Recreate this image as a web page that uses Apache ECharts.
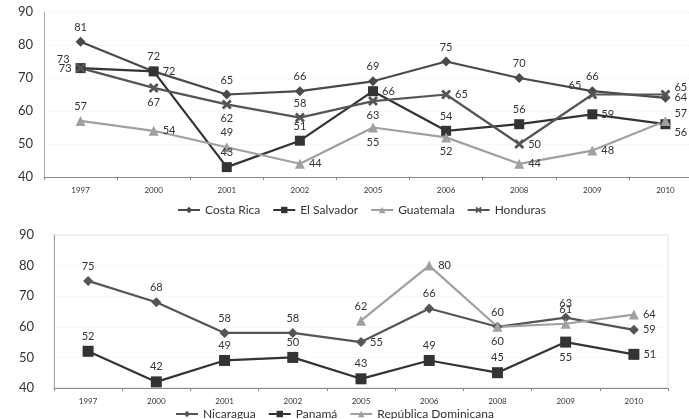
<!DOCTYPE html>
<html><head><meta charset="utf-8">
<script src="https://cdn.jsdelivr.net/npm/echarts@6/dist/echarts.min.js"></script>
<style>html,body{margin:0;padding:0;background:#fff;overflow:hidden;width:689px;height:419px}#c{width:720px;height:419px}</style>
</head><body><div id="c"></div>
<script>
const years = ['1997','2000','2001','2002','2005','2006','2008','2009','2010'];
const yTicks = [40,50,60,70,80,90];
const costaRica = [81,72,65,66,69,75,70,66,64];
const elSalvador = [73,72,43,51,66,54,56,59,56];
const guatemala = [57,54,49,44,55,52,44,48,57];
const honduras = [73,67,62,58,63,65,50,65,65];
const nicaragua = [75,68,58,58,55,66,60,63,59];
const panama = [52,42,49,50,43,49,45,55,51];
const repDom = [null,null,null,null,62,80,60,61,64];

// label placement (style only)
const posCR = ['top','top','top','top','top','top','top','top','right'];
const posES = ['left','right','top','top','right','top','top','right','bottomRight'];
const posGT = ['top','right','top','right','bottom','bottom','right','right','topRight'];
const posHN = ['topLeft','bottom','bottom','top','bottom','right','right','topLeft','topRight'];
const posNI = ['top','top','top','top','right','top','top','top','right'];
const posPA = ['top','top','top','top','top','top','top','bottom','right'];
const posRD = [null,null,null,null,'top','right','bottom','top','right'];

const xPath = 'path://M0,2L2,0L5,3L8,0L10,2L7,5L10,8L8,10L5,7L2,10L0,8L3,5Z';
const FONT = 'Lato';

function mk(vals, pos) {
  return vals.map((v, i) => {
    if (v === null) return null;
    let p = pos[i], off = [0,0], position = p;
    if (p === 'topLeft') { position = 'left'; off = [-2,-9]; }
    else if (p === 'topRight') { position = 'right'; off = [0,-7]; }
    else if (p === 'bottomRight') { position = 'right'; off = [0,8]; }
    return {value: v, label: {position: position, offset: off}};
  });
}

function series(name, vals, pos, color, symbol, size, xi) {
  return {
    name: name, type: 'line', xAxisIndex: xi, yAxisIndex: xi,
    data: mk(vals, pos), symbol: symbol, symbolSize: size,
    lineStyle: {color: color, width: 2.2}, itemStyle: {color: color},
    label: {show: true, fontSize: 11, color: '#333', fontFamily: FONT, distance: 4},
    emphasis: {disabled: true}, animation: false, connectNulls: false
  };
}

const xAx = (gi) => ({
  type: 'category', gridIndex: gi, data: years, boundaryGap: true,
  axisLine: {lineStyle: {color: '#888', width: 1.2}},
  axisTick: {show: true, alignWithLabel: false, length: 3, lineStyle: {color: '#888'}},
  axisLabel: {fontSize: 8, color: '#333', fontFamily: FONT, margin: 9}
});
const yAx = (gi, margin) => ({
  type: 'value', gridIndex: gi, min: 40, max: 90, interval: 10,
  axisLine: {show: true, lineStyle: {color: '#aaa'}},
  axisTick: {show: false},
  splitLine: {show: true, lineStyle: {color: '#f2f2f2', type: 'dotted'}},
  axisLabel: {fontSize: 13, color: '#333', fontFamily: FONT, margin: margin}
});

const chart = echarts.init(document.getElementById('c'), null, {renderer: 'canvas'});
chart.setOption({
  backgroundColor: '#fff',
  animation: false,
  textStyle: {fontFamily: FONT},
  grid: [
    {left: 44, top: 12, width: 658, height: 165},
    {left: 54, top: 235, width: 614, height: 153, show: true, borderColor: '#ddd', borderWidth: 1}
  ],
  xAxis: [xAx(0), xAx(1)],
  yAxis: [yAx(0, 11), yAx(1, 20)],
  legend: [
    {data: ['Costa Rica','El Salvador','Guatemala','Honduras'], top: 199, left: 172,
     itemWidth: 22, itemHeight: 8, itemGap: 12,
     textStyle: {fontSize: 12, color: '#333', fontFamily: FONT}},
    {data: ['Nicaragua','Panamá','República Dominicana'], top: 403, left: 170,
     itemWidth: 22, itemHeight: 8, itemGap: 12,
     textStyle: {fontSize: 12, color: '#333', fontFamily: FONT}}
  ],
  series: [
    series('Costa Rica', costaRica, posCR, '#4a4a4a', 'diamond', 10, 0),
    series('El Salvador', elSalvador, posES, '#333333', 'rect', 10, 0),
    series('Guatemala', guatemala, posGT, '#a0a0a0', 'triangle', 10, 0),
    series('Honduras', honduras, posHN, '#555555', xPath, 10, 0),
    series('Nicaragua', nicaragua, posNI, '#555555', 'diamond', 10, 1),
    series('Panamá', panama, posPA, '#333333', 'rect', 11, 1),
    series('República Dominicana', repDom, posRD, '#a0a0a0', 'triangle', 10, 1)
  ]
});
</script></body></html>
